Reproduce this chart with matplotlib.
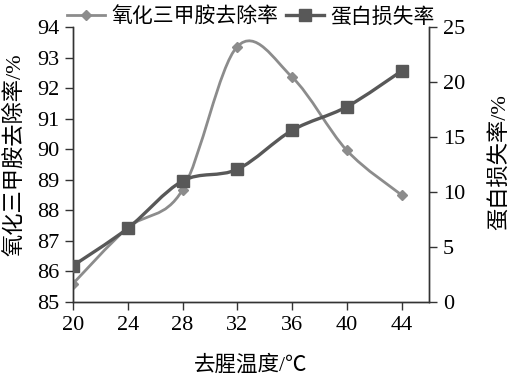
import matplotlib.pyplot as plt
from matplotlib.path import Path
from matplotlib.patches import PathPatch

plt.rcParams['font.family'] = ['Liberation Serif', 'Noto Sans CJK SC', 'DejaVu Sans']

temps = [20, 24, 28, 32, 36, 40, 44]
tmao_removal = [85.6, 87.43, 88.67, 93.36, 92.36, 89.96, 88.5]
protein_loss = [3.3, 6.7, 11.0, 12.06, 15.6, 17.75, 21.0]

c_tmao = '#8c8c8c'
c_prot = '#585858'


def smooth_path(xs, ys):
    # Excel-like smoothed line: Catmull-Rom as cubic Bezier segments
    pts = list(zip(xs, ys))
    verts = [pts[0]]
    codes = [Path.MOVETO]
    n = len(pts)
    for i in range(n - 1):
        p0 = pts[i - 1] if i > 0 else pts[i]
        p1 = pts[i]
        p2 = pts[i + 1]
        p3 = pts[i + 2] if i + 2 < n else pts[i + 1]
        c1 = (p1[0] + (p2[0] - p0[0]) / 6, p1[1] + (p2[1] - p0[1]) / 6)
        c2 = (p2[0] - (p3[0] - p1[0]) / 6, p2[1] - (p3[1] - p1[1]) / 6)
        verts += [c1, c2, p2]
        codes += [Path.CURVE4] * 3
    return Path(verts, codes)


fig = plt.figure(figsize=(5.12, 3.79), dpi=100)
ax1 = fig.add_axes([0.1426, 0.2032, 0.6953, 0.7256])
ax2 = ax1.twinx()

ax1.add_patch(PathPatch(smooth_path(temps, tmao_removal), fill=False,
                        edgecolor=c_tmao, lw=2.0, zorder=3))
l1, = ax1.plot(temps, tmao_removal, ls='none', marker='D', ms=5,
               color=c_tmao, zorder=4)
ax2.add_patch(PathPatch(smooth_path(temps, protein_loss), fill=False,
                        edgecolor=c_prot, lw=2.4, zorder=3))
l2, = ax2.plot(temps, protein_loss, ls='none', marker='s', ms=8,
               color=c_prot, zorder=4)

ax1.set_xlim(20, 46)
ax1.set_ylim(85, 94)
ax2.set_ylim(0, 25)
ax1.set_xticks(temps)
ax1.set_yticks(range(85, 95))
ax2.set_yticks(range(0, 26, 5))

for ax in (ax1, ax2):
    for s in ax.spines.values():
        s.set_color('#333333')
        s.set_linewidth(1.0)
    ax.spines['top'].set_visible(False)
    ax.tick_params(direction='out', length=6, width=1.0, colors='#333333',
                   labelsize=16, labelcolor='black', pad=4)

ax1.set_xlabel('去腥温度/℃', fontsize=15.5)
ax1.xaxis.set_label_coords(0.5, -0.232)
ax1.xaxis.label.set_va('center')

ax1.set_ylabel('氧化三甲胺去除率/%', fontsize=16, va='center', ha='center')
ax1.yaxis.set_label_coords(-0.163, 0.535)
ax2.set_ylabel('蛋白损失率/%', fontsize=16, rotation=90, va='center', ha='center')
ax2.yaxis.set_label_coords(1.2, 0.51)

h1 = plt.Line2D([], [], color=c_tmao, lw=2.0, marker='D', ms=5)
h2 = plt.Line2D([], [], color=c_prot, lw=2.4, marker='s', ms=8)
fig.legend([h1, h2], ['氧化三甲胺去除率', '蛋白损失率'], loc='upper center',
           bbox_to_anchor=(0.49, 1.03), ncol=2, frameon=False, fontsize=15,
           handlelength=1.8, handletextpad=0.3, columnspacing=0.4)

fig.savefig('out.png', dpi=100)
